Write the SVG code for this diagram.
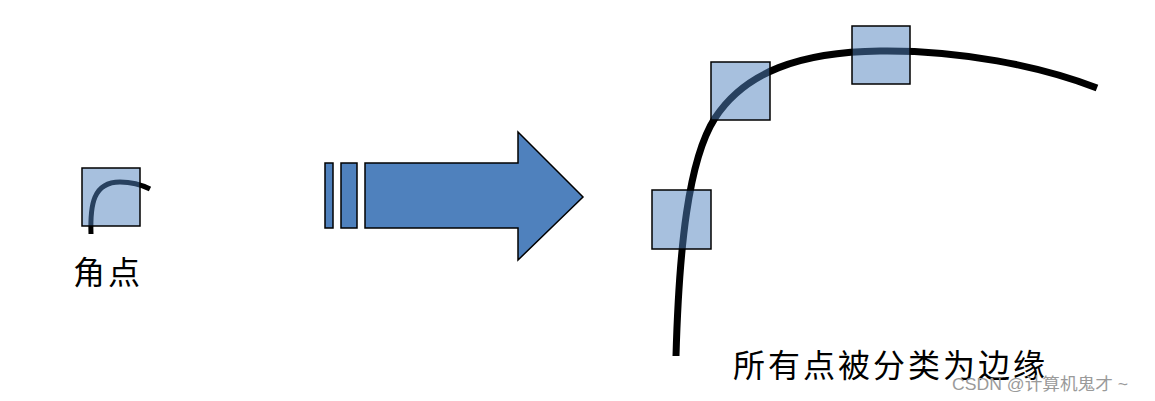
<svg xmlns="http://www.w3.org/2000/svg" width="1155" height="401" viewBox="0 0 1155 401">
<style>
.box{fill:#4F81BD;fill-opacity:0.5;stroke:#000;stroke-width:1.5}
.curve{fill:none;stroke:#000;stroke-linecap:butt}
.arrow{fill:#4F81BD;stroke:#000;stroke-width:1.5;stroke-linejoin:miter}
.lbl{font-family:"Liberation Serif","Noto Sans CJK SC",serif;font-size:32px;fill:#000}
.wm{font-family:"Liberation Sans","Noto Sans CJK SC",sans-serif;font-size:17px;fill:#9a9a9a}
</style>
<rect width="1155" height="401" fill="#fff"/>
<g id="corner">
<path class="curve" stroke-width="5" d="M91,234 C90,205 93,182 120,182 C132,182 142,185 150,189"/>
<rect class="box" x="82" y="168" width="58" height="58"/>
<text class="lbl" x="73" y="284" textLength="67" lengthAdjust="spacing">角点</text>
</g>
<g id="arrow">
<rect class="arrow" x="325" y="163" width="8" height="65"/>
<rect class="arrow" x="341" y="163" width="16" height="65"/>
<polygon class="arrow" points="365,163 518,163 518,132 583,197 518,260 518,228 365,228"/>
</g>
<g id="edge">
<path class="curve" stroke-width="7" d="M676,356 C679,250 688,160 715,118 C745,72 800,52 880,51 C960,50 1040,66 1097,88"/>
<rect class="box" x="652" y="190" width="59" height="59"/>
<rect class="box" x="711" y="62" width="59" height="58"/>
<rect class="box" x="852" y="26" width="58" height="58"/>
<text class="lbl" x="733" y="377" textLength="312" lengthAdjust="spacing">所有点被分类为边缘</text>
</g>
<text class="wm" x="952" y="390" textLength="176" lengthAdjust="spacingAndGlyphs">CSDN @计算机鬼才 ~</text>
</svg>
